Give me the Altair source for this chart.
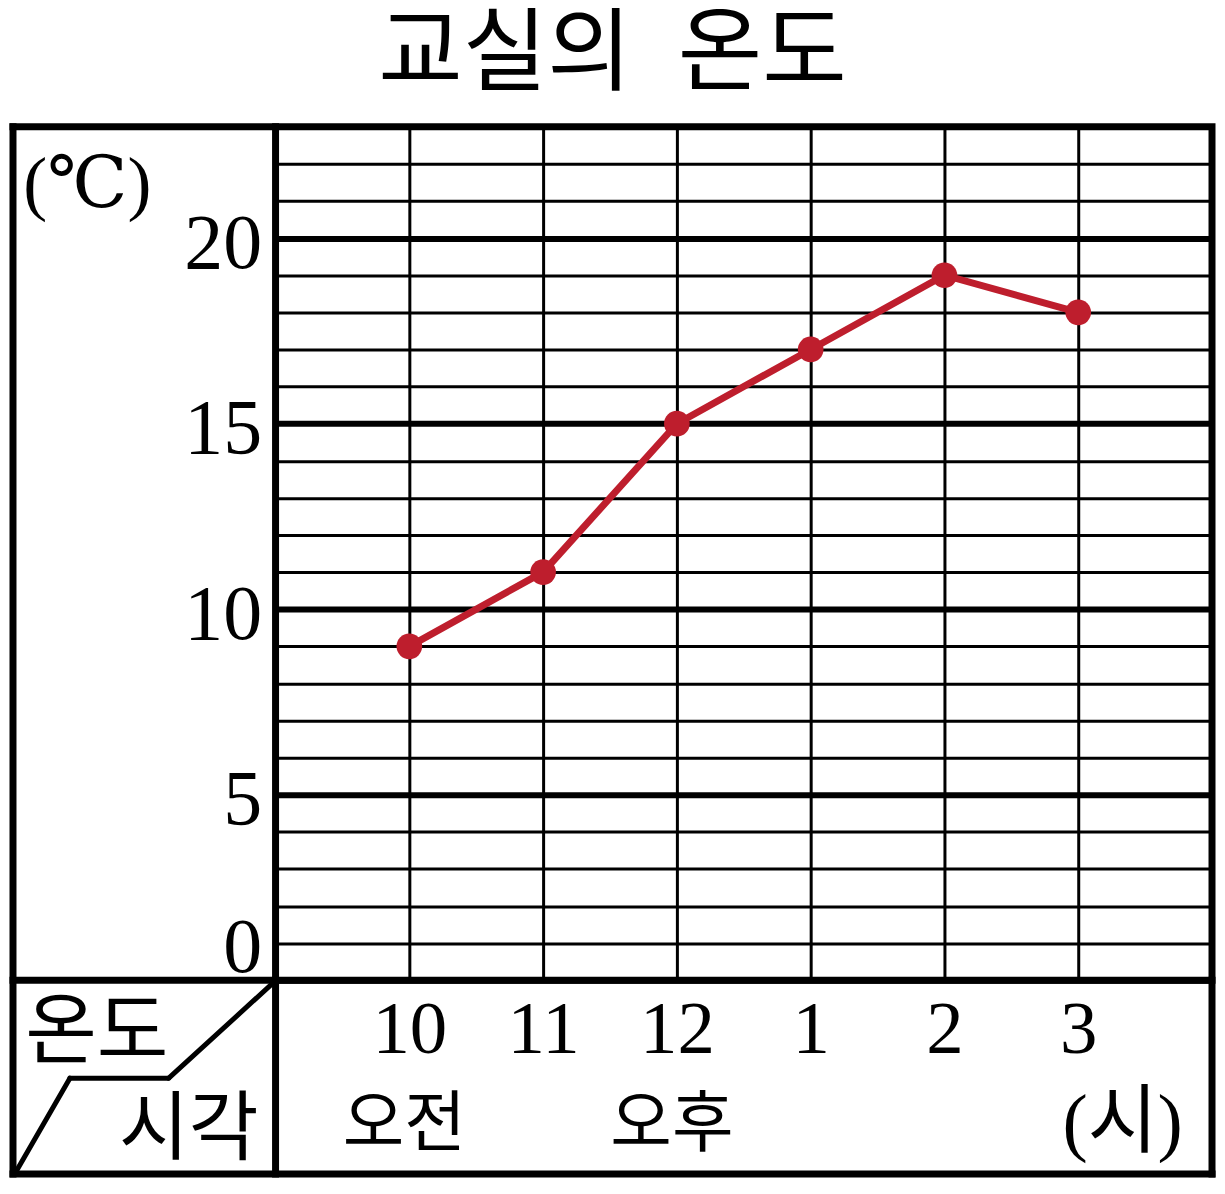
import altair as alt
import pandas as pd

# ---------------- data ----------------
times = ["10", "11", "12", "1", "2", "3"]      # 시각
temps = [9, 11, 15, 17, 19, 18]                # 온도 (℃)
periods = ["오전", "", "오후", "", "", ""]      # 오전 / 오후
y_ticks = list(range(0, 23))                   # 1℃ 간격 눈금
y_max = 23
title_text = "교실의\u2002온도"
y_unit = "(℃)"
x_unit = "(시)"
corner_top = "온도"
corner_bottom = "시각"

# ---------------- layout / style ----------------
W, H = 938, 855          # grid area
L = -263                 # left border of the table (relative to grid)
B = H + 194              # bottom border of the table
FRAME = 7
RED = "#BE1E2D"
SERIF = "Liberation Serif, DejaVu Serif, Noto Sans CJK KR"
KR = "Noto Sans CJK KR"

df = pd.DataFrame({"time": times, "temp": temps, "period": periods})
one = alt.Data(values=[{}])

x_enc = alt.X(
    "time:O", sort=times,
    scale=alt.Scale(type="point", padding=1),
    axis=alt.Axis(
        title=x_unit, titleFont=SERIF, titleFontSize=76, titleFontWeight="normal",
        titleColor="black", titleAngle=0, titleX=848, titleY=166,
        titleAlign="center", titleBaseline="alphabetic",
        labelAngle=0, labelFont=SERIF, labelFontSize=75, labelColor="black",
        labelPadding=13, labelBaseline="top",
        ticks=False, tickSize=0, domain=False,
        grid=True, gridColor="black", gridOpacity=1, gridWidth=3,
    ),
)
y_enc = alt.Y(
    "temp:Q",
    scale=alt.Scale(domain=[0, y_max], nice=False, zero=True),
    axis=alt.Axis(
        values=y_ticks, tickCount=40, format="d",
        title=y_unit, titleFont=SERIF, titleFontSize=72, titleFontWeight="normal",
        titleColor="black", titleAngle=0, titleX=-189, titleY=80,
        titleAlign="center", titleBaseline="alphabetic",
        labelExpr="datum.value % 5 === 0 ? datum.label : ''",
        labelFont=SERIF, labelFontSize=78, labelColor="black",
        labelPadding=14, labelOverlap=False, labelFlush=False, labelBaseline="middle",
        labelOffset={"condition": {"test": "datum.value === 0", "value": -32}, "value": 6},
        ticks=False, tickSize=0, domain=False,
        grid=True, gridColor="black", gridOpacity=1,
        gridWidth={"condition": {"test": "datum.value % 5 === 0", "value": 6}, "value": 3},
    ),
)

line = alt.Chart(df).mark_line(color=RED, strokeWidth=7).encode(x=x_enc, y=y_enc)
points = alt.Chart(df).mark_circle(color=RED, size=660, opacity=1).encode(x=x_enc, y=y_enc)
period_text = (
    alt.Chart(df)
    .transform_filter("datum.period != ''")
    .mark_text(font=KR, fontSize=67, baseline="alphabetic", align="center", color="black", dx=-5)
    .encode(x=x_enc, y=alt.value(H + 166), text="period:N")
)


def rule(**kw):
    return alt.Chart(one).mark_rule(color="black", strokeWidth=FRAME, strokeCap="square").encode(
        **{k: alt.value(v) for k, v in kw.items()}
    )


frame = [
    rule(x=L, x2=0, y=0),          # top over left column
    rule(x=L, y=0, y2=B),          # left border
    rule(x=L, x2=W, y=B),          # bottom border
    rule(x=W, y=H, y2=B),          # right border, lower part
    rule(x=0, y=H, y2=B),          # vertical divider, lower part
    rule(x=L, x2=0, y=H),          # horizontal divider, left part
]


def diag(x, y, x2, y2):
    return alt.Chart(one).mark_rule(color="black", strokeWidth=5, strokeCap="round").encode(
        x=alt.value(x), y=alt.value(y), x2=alt.value(x2), y2=alt.value(y2)
    )


diagonal = [
    diag(L + 4, B - 4, -206, H + 98),
    diag(-206, H + 98, -107, H + 98),
    diag(-107, H + 98, -3, H + 3),
]


def corner(label, x, y, size):
    return alt.Chart(one).mark_text(
        font=KR, fontSize=size, baseline="alphabetic", align="center", color="black"
    ).encode(x=alt.value(x), y=alt.value(y), text=alt.value(label))


corners = [
    corner(corner_top, -179, H + 78, 78),
    corner(corner_bottom, -87, H + 174, 76),
]

chart = (
    alt.layer(line, points, period_text, *frame, *diagonal, *corners)
    .properties(
        width=W, height=H,
        padding={"top": 0, "left": 0, "right": 0, "bottom": 0},
        background="white",
        title=alt.TitleParams(
            text=title_text, font=KR, fontSize=92, fontWeight="normal",
            color="black", anchor="middle", offset=20, frame="bounds",
        ),
    )
    .configure_view(stroke="black", strokeWidth=FRAME)
)

chart.save("out.html", embed_options={"renderer": "svg", "actions": False})
